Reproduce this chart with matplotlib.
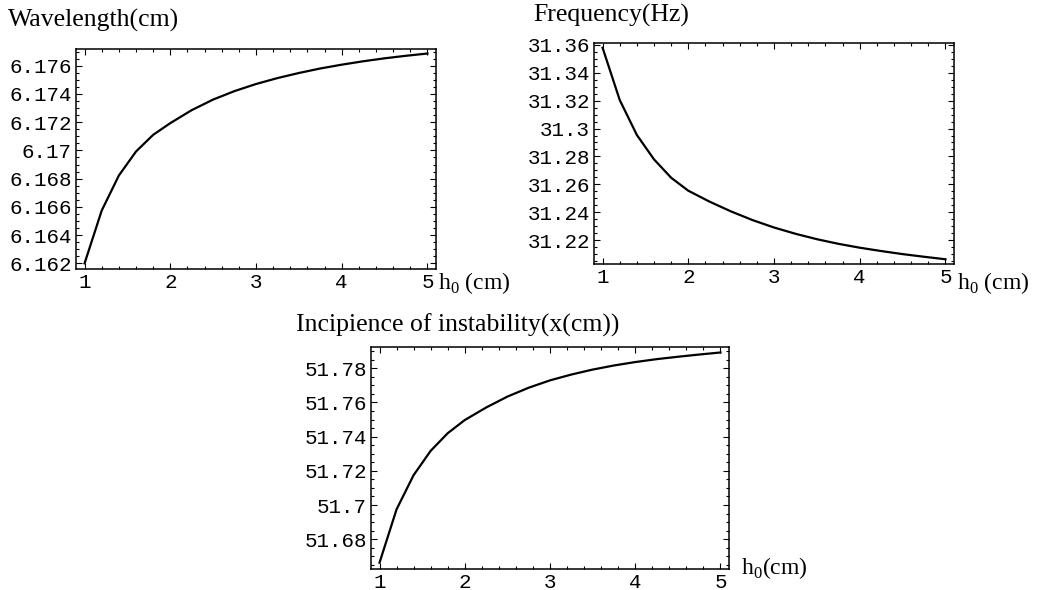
import matplotlib.pyplot as plt
from matplotlib.ticker import MultipleLocator, AutoMinorLocator, FuncFormatter

plt.rcParams["mathtext.fontset"] = "custom"
plt.rcParams["mathtext.rm"] = "Liberation Serif"

W, H = 1039, 590

# Daten
h0 = [1, 1.2, 1.4, 1.6, 1.8, 2, 2.25, 2.5, 2.75, 3, 3.25, 3.5, 3.75,
      4, 4.25, 4.5, 4.75, 5]
wavelength = [6.16200, 6.16574, 6.16822, 6.16992, 6.17110, 6.17193,
              6.17285, 6.17360, 6.17420, 6.17470, 6.17512, 6.17548,
              6.17580, 6.17607, 6.17631, 6.17652, 6.17670, 6.17686]
frequency = [31.3580, 31.3205, 31.2954, 31.2779, 31.2647, 31.2554,
             31.2475, 31.2405, 31.2343, 31.2290, 31.2245, 31.2206,
             31.2173, 31.2145, 31.2121, 31.2099, 31.2080, 31.2062]
incipience = [51.6663, 51.6975, 51.7175, 51.7317, 51.7420, 51.7497,
              51.7570, 51.7634, 51.7686, 51.7729, 51.7763, 51.7792,
              51.7816, 51.7836, 51.7853, 51.7867, 51.7880, 51.7892]

titles = ["Wavelength(cm)", "Frequency(Hz)", "Incipience of instability(x(cm))"]
xlabels = [r"h$_\mathrm{0}$ (cm)", r"h$_\mathrm{0}$ (cm)", r"h$_\mathrm{0}$(cm)"]


def fmt(v, pos):
    return f"{v:.3f}".rstrip("0").rstrip(".")


def style(ax, ystep, ylim):
    ax.set_xlim(0.9, 5.1)
    ax.set_ylim(*ylim)
    ax.xaxis.set_major_locator(MultipleLocator(1))
    ax.yaxis.set_major_locator(MultipleLocator(ystep))
    ax.xaxis.set_minor_locator(AutoMinorLocator(5))
    ax.yaxis.set_minor_locator(AutoMinorLocator(4))
    ax.yaxis.set_major_formatter(FuncFormatter(fmt))
    ax.tick_params(which="both", direction="in", top=True, right=True,
                   width=0.8, labelsize=15, pad=3)
    ax.tick_params(which="major", length=4)
    ax.tick_params(which="minor", length=2)
    for lab in ax.get_xticklabels() + ax.get_yticklabels():
        lab.set_fontfamily("Liberation Mono")
    for s in ax.spines.values():
        s.set_linewidth(1.1)


fig = plt.figure(figsize=(W / 100, H / 100), dpi=100)

# Achsen in Pixeln: links, oben, rechts, unten
boxes = [(76, 49, 436, 269), (594, 43, 954, 264), (371, 346.5, 729, 568.5)]
axes = []
for (l, t, r, b) in boxes:
    axes.append(fig.add_axes([l / W, 1 - b / H, (r - l) / W, (b - t) / H]))

axes[0].plot(h0, wavelength, color="black", lw=1.6)
style(axes[0], 0.002, (6.1616, 6.17718))

axes[1].plot(h0, frequency, color="black", lw=1.6)
style(axes[1], 0.02, (31.2028, 31.3614))

axes[2].plot(h0, incipience, color="black", lw=1.6)
style(axes[2], 0.02, (51.6629, 51.7927))

# Titel und Achsenbeschriftung
title_pos = [(8, 20), (533, 15), (296, 325)]
for (x, y), t in zip(title_pos, titles):
    fig.text(x / W, 1 - y / H, t, family="Liberation Serif", fontsize=18.5,
             ha="left", va="center")

label_pos = [(438, 283), (957, 283), (741, 568)]
for (x, y), t in zip(label_pos, xlabels):
    fig.text(x / W, 1 - y / H, t, family="Liberation Serif", fontsize=17,
             ha="left", va="center")

fig.savefig("out.png", dpi=100)
